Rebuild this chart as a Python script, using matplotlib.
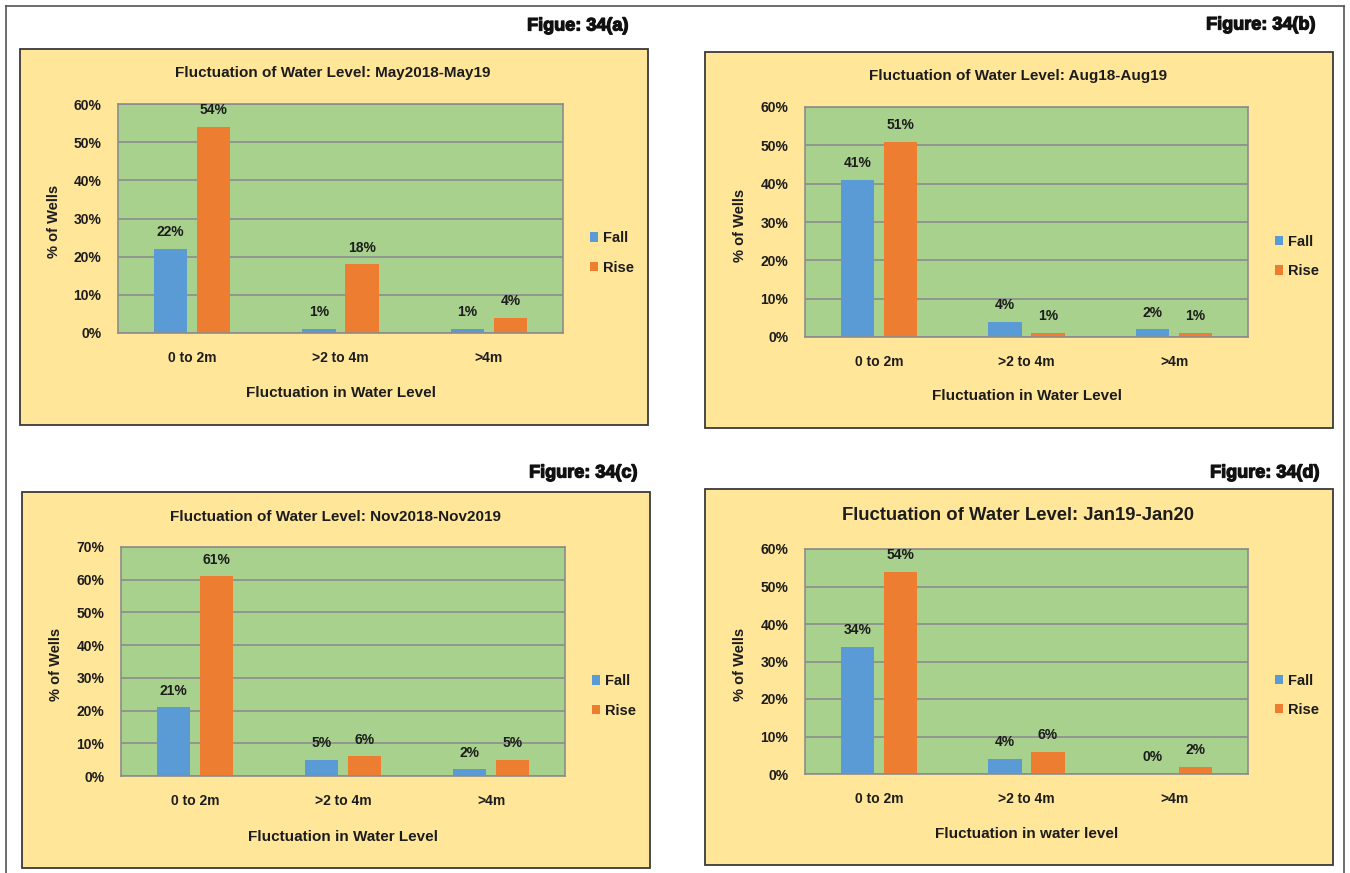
import matplotlib
matplotlib.use('Agg')
import matplotlib.pyplot as plt
import matplotlib.patheffects as pe
from matplotlib.patches import Rectangle
from matplotlib.lines import Line2D
import numpy as np

# data
categories = ['0 to 2m', '>2 to 4m', '>4m']
series_names = ['Fall', 'Rise']

fall_a = [22, 1, 1]
rise_a = [54, 18, 4]
fall_b = [41, 4, 2]
rise_b = [51, 1, 1]
fall_c = [21, 5, 2]
rise_c = [61, 6, 5]
fall_d = [34, 4, 0]
rise_d = [54, 6, 2]

titles = ['Fluctuation of Water Level: May2018-May19',
          'Fluctuation of Water Level: Aug18-Aug19',
          'Fluctuation of Water Level: Nov2018-Nov2019',
          'Fluctuation of Water Level: Jan19-Jan20']
fig_tags = ['Figue: 34(a)', 'Figure: 34(b)', 'Figure: 34(c)', 'Figure: 34(d)']
x_titles = ['Fluctuation in Water Level', 'Fluctuation in Water Level',
            'Fluctuation in Water Level', 'Fluctuation in water level']
y_max = [60, 60, 70, 60]

YELLOW = '#FFE699'
GREEN = '#A9D18E'
BLUE = '#5B9BD5'
ORANGE = '#ED7D31'
GRID = '#8c8c8c'
TXT = '#1c1c1c'

plt.rcParams['font.family'] = ['Liberation Sans Narrow', 'Liberation Sans', 'DejaVu Sans']

W, H = 1350, 873

def fx(x):
    return x / W

def fy(y):
    return 1 - y / H

# pixel layout: yellow box, plot area, tag (right edge, y)
boxes = [(20, 49, 648, 425), (705, 52, 1333, 428),
         (22, 492, 650, 868), (705, 489, 1333, 865)]
plots = [(118, 104, 563, 333), (805, 107, 1248, 337),
         (121, 547, 565, 776), (805, 549, 1248, 774)]
tags = [(628, 26), (1315, 25), (637, 473), (1319, 473)]
title_y = [73, 76, 517, 515]
title_size = [11, 11, 11, 13.3]
xlab_y = [393, 396, 837, 834]
ylab_x = [54, 740, 56, 740]

falls = [fall_a, fall_b, fall_c, fall_d]
rises = [rise_a, rise_b, rise_c, rise_d]

fig = plt.figure(figsize=(13.5, 8.73), dpi=100)

# page frame
for xs, ys in [([6, 1344], [6, 6]), ([6, 6], [6, 873]), ([1344, 1344], [6, 873])]:
    fig.lines.append(Line2D([fx(v) for v in xs], [fy(v) for v in ys],
                            transform=fig.transFigure, color='#555555', lw=1.2))

x = np.arange(len(categories))
bw = 0.225
off = 0.145

for i in range(4):
    bx0, by0, bx1, by1 = boxes[i]
    fig.patches.append(Rectangle((fx(bx0), fy(by1)), (bx1 - bx0) / W, (by1 - by0) / H,
                                 transform=fig.transFigure, fc=YELLOW, ec='#3a3a3a',
                                 lw=1.3, zorder=-1))
    px0, py0, px1, py1 = plots[i]
    ax = fig.add_axes([fx(px0), fy(py1), (px1 - px0) / W, (py1 - py0) / H])
    ax.set_facecolor(GREEN)
    ax.set_axisbelow(True)

    b1 = ax.bar(x - off, falls[i], bw, color=BLUE, label=series_names[0])
    b2 = ax.bar(x + off, rises[i], bw, color=ORANGE, label=series_names[1])
    for bars, vals in [(b1, falls[i]), (b2, rises[i])]:
        ax.bar_label(bars, labels=[f'{v}%' for v in vals], padding=7,
                     fontsize=10, fontweight='bold', color=TXT)

    ax.set_xlim(-0.5, 2.5)
    ax.set_ylim(0, y_max[i])
    ax.set_yticks(np.arange(0, y_max[i] + 1, 10))
    ax.set_yticklabels([f'{t}%' for t in range(0, y_max[i] + 1, 10)])
    ax.set_xticks(x)
    ax.set_xticklabels(categories)
    ax.tick_params(length=0, labelsize=10, colors=TXT)
    ax.tick_params(axis='y', pad=12)
    ax.tick_params(axis='x', pad=13)
    for lab in ax.get_xticklabels() + ax.get_yticklabels():
        lab.set_fontweight('bold')
    ax.yaxis.grid(True, color=GRID, lw=1.2)
    for sp in ax.spines.values():
        sp.set_color(GRID)
        sp.set_linewidth(1.2)

    ax.legend(loc='center left', bbox_to_anchor=(1.06, 0.35), frameon=False,
              handlelength=0.6, handleheight=0.6, handletextpad=0.3,
              labelspacing=1.05, borderpad=0, borderaxespad=0,
              prop={'size': 10.5, 'weight': 'bold'}, labelcolor=TXT)

    fig.text(fx((bx0 + bx1) / 2 - 1), fy(title_y[i]), titles[i], ha='center', va='center',
             fontsize=title_size[i], fontweight='bold', color=TXT)
    fig.text(fx((px0 + px1) / 2), fy(xlab_y[i]), x_titles[i], ha='center', va='center',
             fontsize=11, fontweight='bold', color=TXT)
    fig.text(fx(ylab_x[i]), fy((py0 + py1) / 2 + 3), '% of Wells', rotation=90,
             ha='center', va='center', fontsize=10.5, fontweight='bold', color=TXT,
             family=['Liberation Sans', 'DejaVu Sans'])
    fig.text(fx(tags[i][0]), fy(tags[i][1]), fig_tags[i], ha='right', va='center',
             fontsize=13, fontweight='bold', color='#111111',
             family=['Liberation Sans', 'DejaVu Sans'],
             path_effects=[pe.withStroke(linewidth=0.9, foreground='#111111')])

fig.savefig('out.png', dpi=100)
